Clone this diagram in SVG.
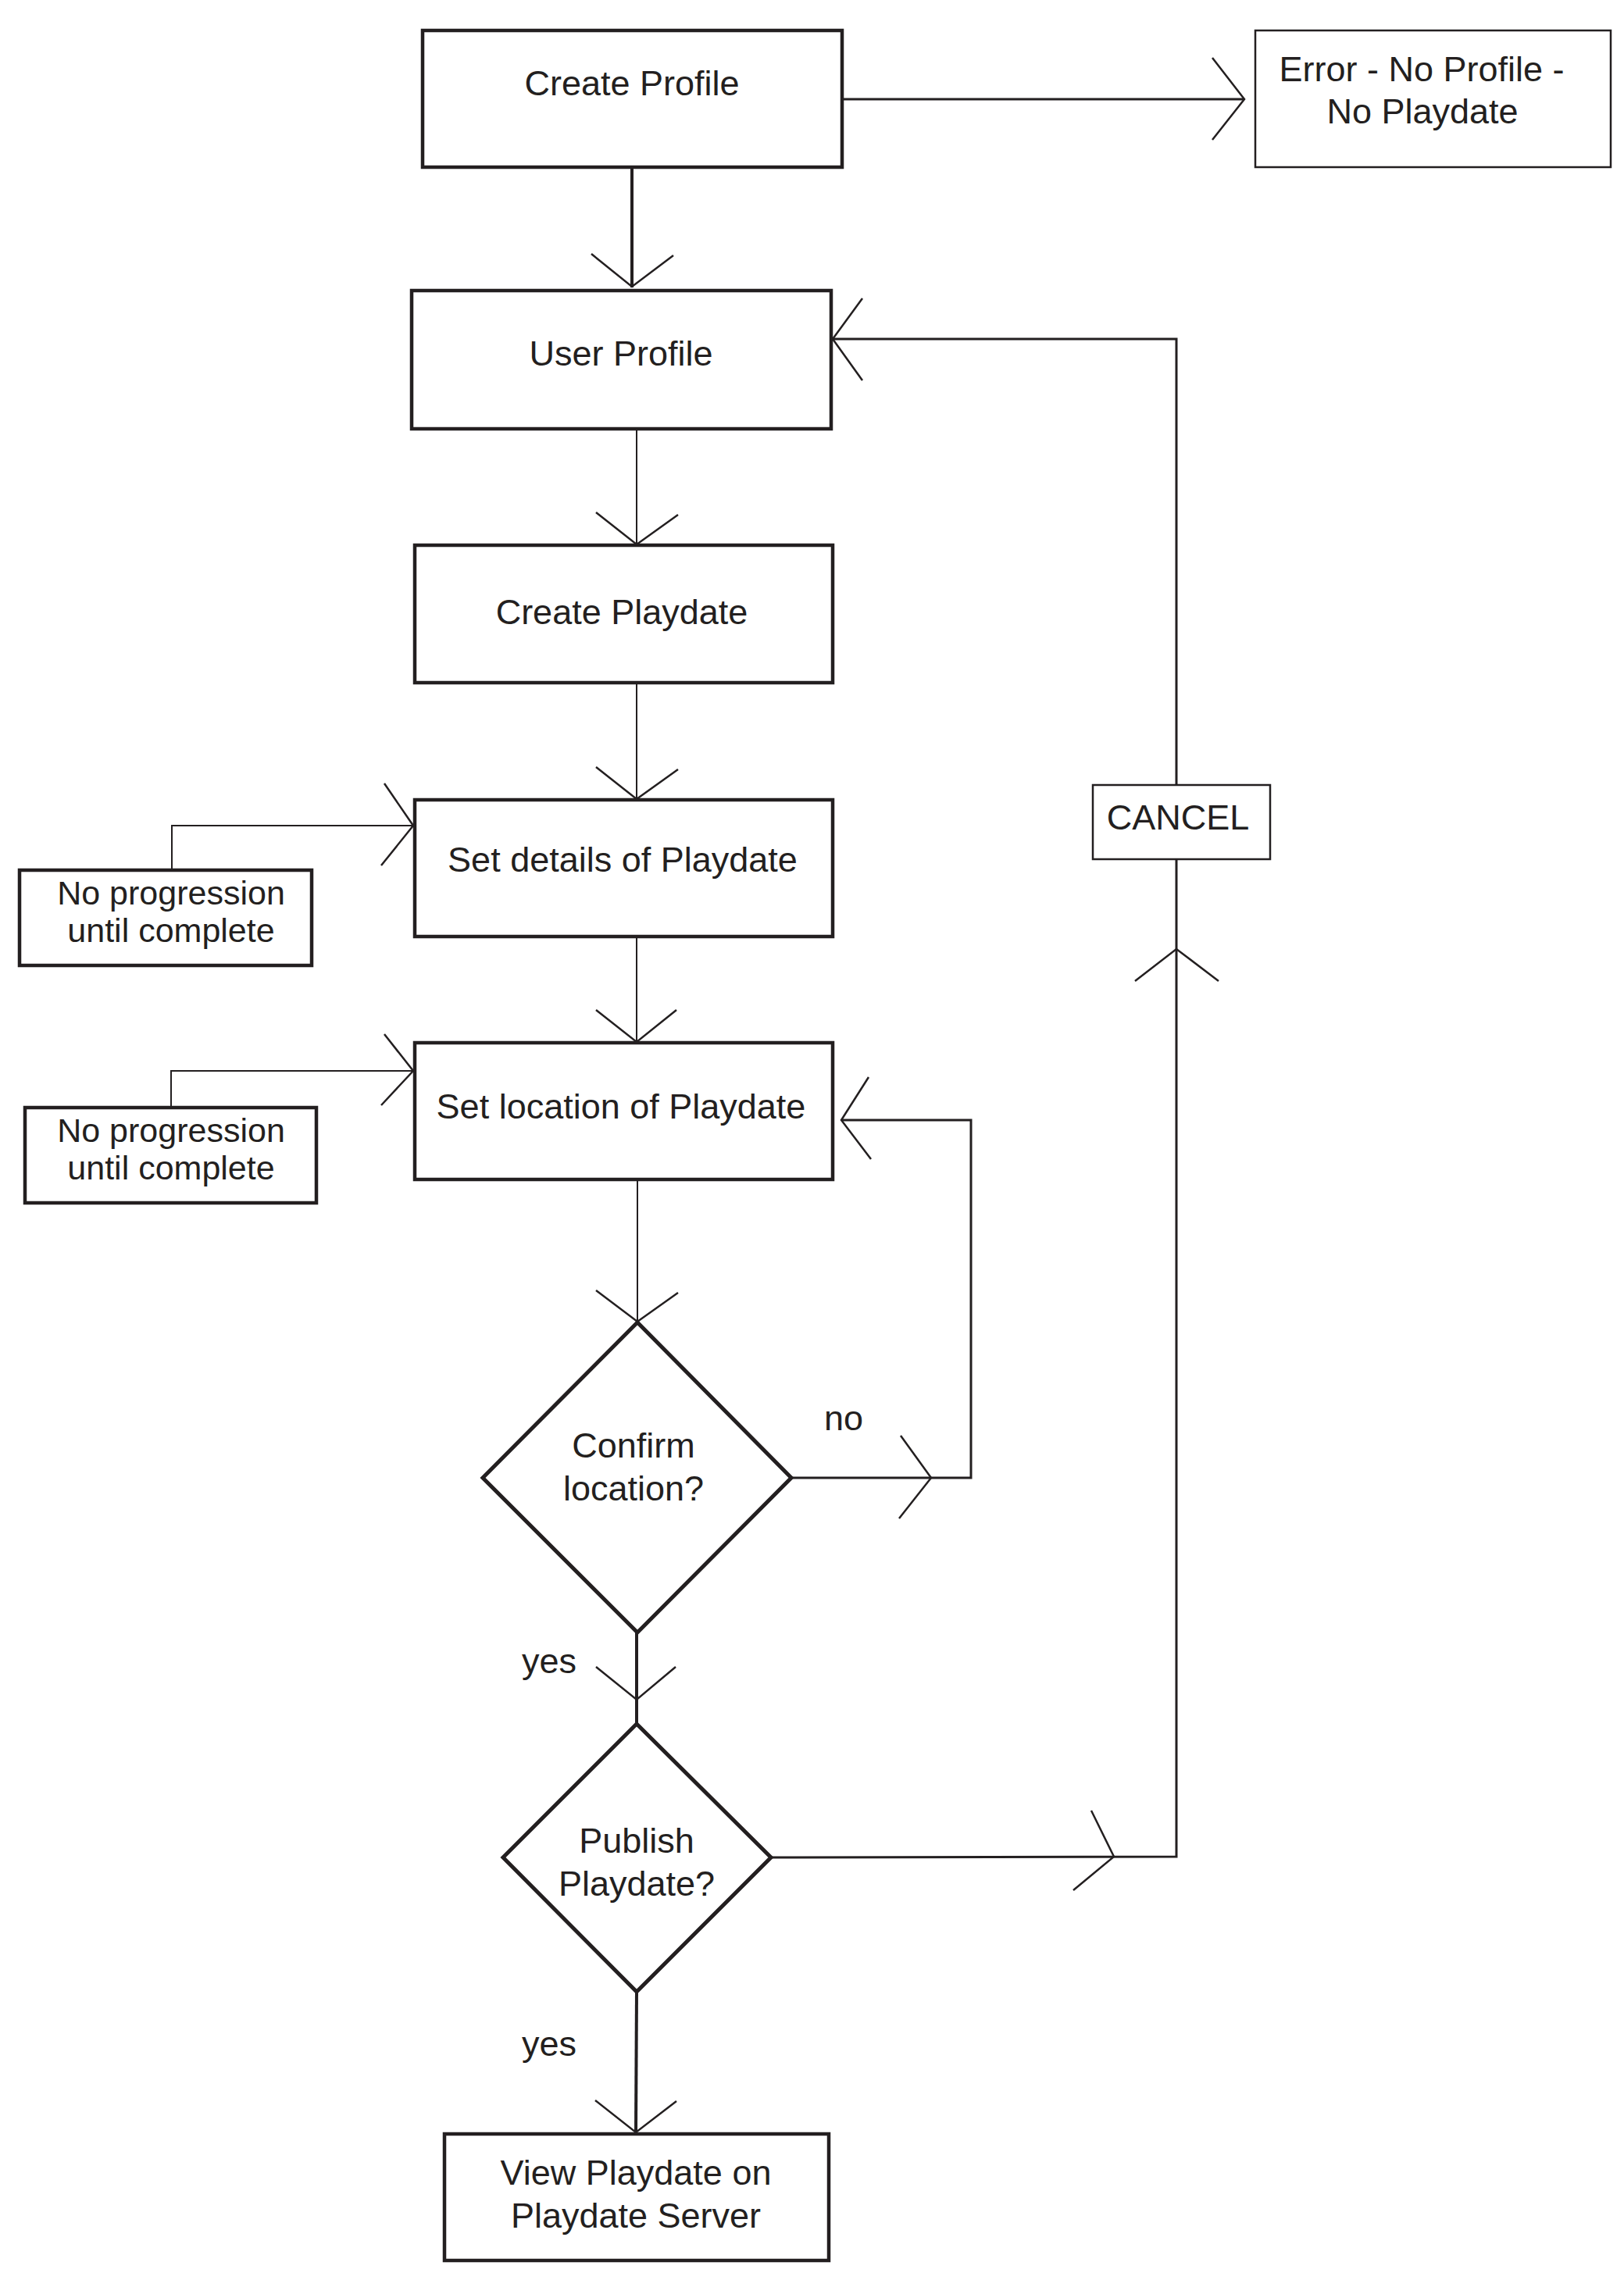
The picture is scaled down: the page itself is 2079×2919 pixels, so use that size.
<svg xmlns="http://www.w3.org/2000/svg" width="2079" height="2919" viewBox="0 0 2079 2919">
<style>
.box{fill:#fff;stroke:#231f20;stroke-width:4.5}
.thin{fill:#fff;stroke:#231f20;stroke-width:2.5}
.dia{fill:#fff;stroke:#231f20;stroke-width:5;stroke-linejoin:miter}
.c{fill:none;stroke:#231f20;stroke-linecap:butt;stroke-linejoin:miter}
.ah{fill:none;stroke:#231f20;stroke-width:2.5;stroke-linejoin:miter}
text{font-family:"Liberation Sans",Arial,sans-serif;font-size:45px;fill:#231f20;text-anchor:middle}
.sm{font-size:43px}
</style>
<rect width="2079" height="2919" fill="#fff"/>
<g id="connectors">
  <line class="c" x1="809" y1="215" x2="809" y2="368" stroke-width="4"/>
  <polyline class="ah" points="757,325 809,367 862,327"/>
  <line class="c" x1="1078" y1="127" x2="1593" y2="127" stroke-width="3"/>
  <polyline class="ah" points="1552,74 1593,127 1552,179"/>
  <line class="c" x1="815" y1="550" x2="815" y2="697" stroke-width="2"/>
  <polyline class="ah" points="763,656 815,697 868,659"/>
  <line class="c" x1="815" y1="875" x2="815" y2="1023" stroke-width="2"/>
  <polyline class="ah" points="763,982 815,1023 868,985"/>
  <line class="c" x1="815" y1="1200" x2="815" y2="1334" stroke-width="2"/>
  <polyline class="ah" points="763,1293 815,1334 866,1293"/>
  <line class="c" x1="816" y1="1511" x2="816" y2="1693" stroke-width="2"/>
  <polyline class="ah" points="763,1652 816,1692 868,1655"/>
  <line class="c" x1="815" y1="2090" x2="815" y2="2207" stroke-width="4"/>
  <polyline class="ah" points="763,2134 815,2176 865,2134"/>
  <line class="c" x1="815" y1="2550" x2="814" y2="2731" stroke-width="4"/>
  <polyline class="ah" points="762,2689 814,2730 866,2690"/>
  <polyline class="c" points="987,2378 1506,2377 1506,1100" stroke-width="3"/>
  <polyline class="ah" points="1397,2318 1426,2377 1374,2420"/>
  <polyline class="c" points="1506,1005 1506,434 1066,434" stroke-width="3"/>
  <polyline class="ah" points="1453,1256 1506,1215 1560,1256"/>
  <polyline class="ah" points="1104,382 1066,434 1104,487"/>
  <polyline class="c" points="1013,1892 1243,1892 1243,1434 1077,1434" stroke-width="3"/>
  <polyline class="ah" points="1153,1838 1192,1892 1151,1944"/>
  <polyline class="ah" points="1112,1379 1077,1434 1115,1484"/>
  <polyline class="c" points="220,1114 220,1057 529,1057" stroke-width="2"/>
  <polyline class="ah" points="492,1003 529,1057 488,1108"/>
  <polyline class="c" points="219,1418 219,1371 529,1371" stroke-width="2"/>
  <polyline class="ah" points="492,1324 529,1371 488,1415"/>
</g>
<g id="create-profile">
  <rect class="box" x="541" y="39" width="537" height="175"/>
  <text x="809" y="122">Create Profile</text>
</g>
<g id="error">
  <rect class="thin" x="1607" y="39" width="455" height="175"/>
  <text x="1820" y="104">Error - No Profile -</text>
  <text x="1821" y="158">No Playdate</text>
</g>
<g id="user-profile">
  <rect class="box" x="527" y="372" width="537" height="177"/>
  <text x="795" y="468">User Profile</text>
</g>
<g id="create-playdate">
  <rect class="box" x="531" y="698" width="535" height="176"/>
  <text x="796" y="799">Create Playdate</text>
</g>
<g id="set-details">
  <rect class="box" x="531" y="1024" width="535" height="175"/>
  <text x="797" y="1116">Set details of Playdate</text>
</g>
<g id="no-progression-1">
  <rect class="box" x="25" y="1114" width="374" height="122"/>
  <text class="sm" x="219" y="1158">No progression</text>
  <text class="sm" x="219" y="1206">until complete</text>
</g>
<g id="set-location">
  <rect class="box" x="531" y="1335" width="535" height="175"/>
  <text x="795" y="1432">Set location of Playdate</text>
</g>
<g id="no-progression-2">
  <rect class="box" x="32" y="1418" width="373" height="122"/>
  <text class="sm" x="219" y="1462">No progression</text>
  <text class="sm" x="219" y="1510">until complete</text>
</g>
<g id="cancel">
  <rect class="thin" x="1399" y="1005" width="227" height="95"/>
  <text x="1508" y="1062">CANCEL</text>
</g>
<g id="confirm-location">
  <polygon class="dia" points="816,1693 1013,1892 816,2090 618,1892"/>
  <text x="811" y="1866">Confirm</text>
  <text x="811" y="1921">location?</text>
</g>
<g id="publish-playdate">
  <polygon class="dia" points="815,2207 987,2378 815,2550 644,2378"/>
  <text x="815" y="2372">Publish</text>
  <text x="815" y="2427">Playdate?</text>
</g>
<g id="view-playdate">
  <rect class="box" x="569" y="2732" width="492" height="162" stroke-width="3.5"/>
  <text x="814" y="2797">View Playdate on</text>
  <text x="814" y="2852">Playdate Server</text>
</g>
<g id="labels">
  <text x="1080" y="1831">no</text>
  <text x="703" y="2142">yes</text>
  <text x="703" y="2632">yes</text>
</g>
</svg>
